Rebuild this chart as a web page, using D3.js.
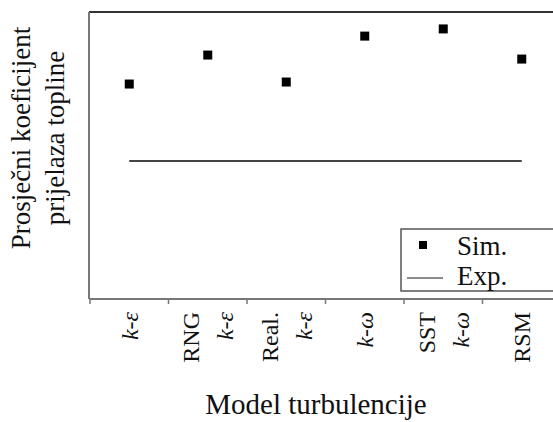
<!DOCTYPE html>
<html>
<head>
<meta charset="utf-8">
<script src="https://cdn.jsdelivr.net/npm/d3@7"></script>
<style>
  body { margin: 0; background: #fff; }
  svg text { font-family: "Liberation Serif", "Times New Roman", Times, "DejaVu Serif", serif; fill: #111; }
</style>
</head>
<body>
<script>
// chart data
var labelTop = ["", "RNG", "Real.", "", "SST", ""];
var labelBottom = ["k-ε", "k-ε", "k-ε", "k-ω", "k-ω", "RSM"];
var simValues = [74.9, 85.0, 75.6, 91.6, 94.1, 83.6];
var expValue = 48.1;
var legendNames = ["Sim.", "Exp."];

var width = 553, height = 422;
var serif = '"Liberation Serif", "Times New Roman", Times, "DejaVu Serif", serif';

const svg = d3.select('body')
    .append("svg")
        .attr("width", width)
        .attr("height", height)
        .attr("font-family", serif)

const x = d3.scaleBand()
    .domain(d3.range(labelBottom.length))
    .range([90, 561]);

const y = d3.scaleLinear()
    .domain([0, 100])
    .range([299, 12]);

// frame (right side is cut off)
svg.append('line')
    .attr('x1', 89).attr('x2', width)
    .attr('y1', y(100)).attr('y2', y(100))
    .attr('stroke', '#333').attr('stroke-width', 2)
svg.append('line')
    .attr('x1', 89).attr('x2', 89)
    .attr('y1', y(100)).attr('y2', y(0))
    .attr('stroke', '#777').attr('stroke-width', 2)

// x axis: ticks on band edges, labels drawn by hand below
const axis = svg.append('g')
    .attr('transform', 'translate(0,' + y(0) + ')')
    .call(d3.axisBottom(x).tickValues([]).tickSizeOuter(0))
axis.select('.domain').attr('stroke', '#777').attr('stroke-width', 2)
    .attr('d', 'M89,0H' + width)

axis.selectAll('.edge')
    .data(d3.range(labelBottom.length))
    .enter().append('line')
        .attr('class', 'edge')
        .attr('x1', d => x(d)).attr('x2', d => x(d))
        .attr('y1', 0).attr('y2', 5)
        .attr('stroke', '#777').attr('stroke-width', 1.5)

const labels = svg.append('g')
labelBottom.forEach((lab, i) => {
    var c = x(i) + x.bandwidth() / 2;
    var two = labelTop[i] !== "";
    if (two) {
        labels.append('text')
            .attr('transform', 'translate(' + (c - 17) + ',312) rotate(-90)')
            .attr('text-anchor', 'end')
            .attr('dy', '0.35em')
            .style('font-family', serif)
            .style('font-size', '24px')
            .text(labelTop[i])
    }
    labels.append('text')
        .attr('transform', 'translate(' + (two ? c + 17 : c) + ',312) rotate(-90)')
        .attr('text-anchor', 'end')
        .attr('dy', '0.35em')
        .style('font-family', serif)
        .style('font-size', '24px')
        .style('font-style', lab.indexOf('k-') === 0 ? 'italic' : 'normal')
        .text(lab)
})

// experiment line
svg.append('line')
    .attr('x1', x(0) + x.bandwidth() / 2)
    .attr('x2', x(labelBottom.length - 1) + x.bandwidth() / 2)
    .attr('y1', y(expValue)).attr('y2', y(expValue))
    .attr('stroke', '#444').attr('stroke-width', 2)

// simulation points
svg.selectAll('.sim')
    .data(simValues)
    .enter().append('rect')
        .attr('class', 'sim')
        .attr('x', (d, i) => x(i) + x.bandwidth() / 2 - 4.5)
        .attr('y', d => y(d) - 4.5)
        .attr('width', 9)
        .attr('height', 9)
        .attr('fill', '#000')

// legend
const legend = svg.append('g')
legend.append('rect')
    .attr('x', 401).attr('y', 229)
    .attr('width', 200).attr('height', 62)
    .attr('fill', '#fff')
    .attr('stroke', '#555').attr('stroke-width', 1.5)
legend.append('rect')
    .attr('x', 419).attr('y', 241)
    .attr('width', 8).attr('height', 8)
    .attr('fill', '#000')
legend.append('line')
    .attr('x1', 407).attr('x2', 443)
    .attr('y1', 278).attr('y2', 278)
    .attr('stroke', '#666').attr('stroke-width', 1.5)
legend.selectAll('.lt')
    .data(legendNames)
    .enter().append('text')
        .attr('class', 'lt')
        .attr('x', 457)
        .attr('y', (d, i) => 255 + i * 30)
        .style('font-family', serif)
        .style('font-size', '27px')
        .text(d => d)

// axis titles
svg.append('text')
    .attr('x', 316).attr('y', 414)
    .attr('text-anchor', 'middle')
    .style('font-family', serif)
    .style('font-size', '29px')
    .text('Model turbulencije')

const ylab = svg.append('text')
    .attr('transform', 'translate(0,138) rotate(-90)')
    .attr('text-anchor', 'middle')
    .style('font-family', serif)
    .style('font-size', '27px')
ylab.append('tspan').attr('x', 0).attr('y', 30).text('Prosječni koeficijent')
ylab.append('tspan').attr('x', 0).attr('y', 64).text('prijelaza topline')
</script>
</body>
</html>
